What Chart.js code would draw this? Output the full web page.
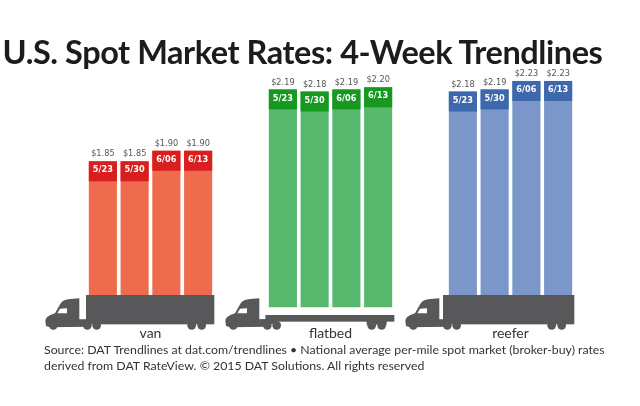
<!DOCTYPE html>
<html>
<head>
<meta charset="utf-8">
<title>U.S. Spot Market Rates</title>
<script src="https://cdn.jsdelivr.net/npm/chart.js@4"></script>
<style>
  html, body { margin: 0; padding: 0; background: #fff; }
  #page { position: relative; width: 640px; height: 406px; overflow: hidden; font-family: Lato, sans-serif; }
  h1 { position: absolute; left: 0; top: 31px; width: 605px; margin: 0; text-align: center; font: 700 32.5px/42px Lato, sans-serif; color: #1c1c1c; letter-spacing: -0.45px; white-space: nowrap; }
  canvas { position: absolute; top: 0; }
  #source { position: absolute; left: 44px; top: 342px; margin: 0; font: 400 12.3px/16px Lato, sans-serif; color: #333; white-space: nowrap; }
</style>
</head>
<body>
<div id="page">
  <canvas id="vanChart" width="180" height="345" style="left:40px"></canvas>
  <canvas id="flatbedChart" width="180" height="345" style="left:220px"></canvas>
  <canvas id="reeferChart" width="180" height="345" style="left:400px"></canvas>
  <h1>U.S. Spot Market Rates: 4-Week Trendlines</h1>
  <p id="source">Source: DAT Trendlines at dat.com/trendlines &bull; National average per-mile spot market (broker-buy) rates<br>derived from DAT RateView. &copy; 2015 DAT Solutions. All rights reserved</p>
</div>
<script>
const weeks = ["5/23", "5/30", "6/06", "6/13"];
const vanRates = [1.85, 1.85, 1.90, 1.90];
const flatbedRates = [2.19, 2.18, 2.19, 2.20];
const reeferRates = [2.18, 2.19, 2.23, 2.23];

const TRUCK_COLOR = "#58585a";

// cab and trailer, in units of 1/3 px, same shape for all three
function drawTruck(ctx, left, flat, trailerLeft) {
  ctx.save();
  ctx.translate(left, 280);
  ctx.scale(1 / 3, 1 / 3);
  ctx.translate(-45, 0);
  ctx.fillStyle = TRUCK_COLOR;

  ctx.beginPath();
  ctx.moveTo(48, 138);
  ctx.lineTo(46, 122);
  ctx.quadraticCurveTo(47, 108, 75, 100);
  ctx.lineTo(92, 70);
  ctx.quadraticCurveTo(100, 58, 120, 57);
  ctx.lineTo(148, 55);
  ctx.lineTo(148, 118);
  ctx.lineTo(175, 118);
  ctx.lineTo(175, 140);
  ctx.lineTo(60, 142);
  ctx.closePath();
  ctx.fill();

  if (flat) {
    ctx.fillRect(trailerLeft, 105, 553 - trailerLeft, 20);
    ctx.fillRect(150, 118, 50, 14);
    ctx.fillRect(470, 120, 60, 14);
  } else {
    ctx.fillRect(trailerLeft, 45, 553 - trailerLeft, 88);
  }

  [70, 172, 200, 485, 515].forEach((x) => {
    ctx.beginPath();
    ctx.arc(x, 136, 13, 0, Math.PI * 2);
    ctx.fill();
  });

  // cab window
  ctx.fillStyle = "#fff";
  ctx.beginPath();
  ctx.moveTo(82, 100);
  ctx.lineTo(90, 86);
  ctx.lineTo(111, 85);
  ctx.lineTo(111, 100);
  ctx.closePath();
  ctx.fill();
  ctx.restore();
}

// header band with the date, price above the bar, truck underneath
const barDecor = {
  id: "barDecor",
  afterDatasetsDraw(chart, args, opts) {
    const ctx = chart.ctx;
    const bars = chart.getDatasetMeta(0).data;
    const dataset = chart.data.datasets[0];
    ctx.save();
    ctx.textAlign = "center";
    ctx.textBaseline = "middle";
    bars.forEach((bar, i) => {
      const x = bar.x - bar.width / 2;
      ctx.fillStyle = opts.bandColor;
      ctx.fillRect(x, bar.y, bar.width, 20);
      ctx.fillStyle = "#fff";
      ctx.font = "700 8.2px 'DejaVu Sans', sans-serif";
      ctx.fillText(chart.data.labels[i], bar.x, bar.y + 9);
      ctx.fillStyle = "#555";
      ctx.font = "400 8.2px 'DejaVu Sans', sans-serif";
      ctx.fillText("$" + dataset.data[i].toFixed(2), bar.x, bar.y - 7);
    });
    ctx.restore();
    drawTruck(ctx, 5, opts.flat, opts.trailerLeft);
  },
};

function makeChart(id, name, rates, barColor, bandColor, flat, trailerLeft) {
  new Chart(document.getElementById(id), {
    type: "bar",
    data: {
      labels: weeks,
      datasets: [
        {
          label: name,
          data: rates,
          backgroundColor: barColor,
          barPercentage: 0.885,
          categoryPercentage: 1,
        },
      ],
    },
    options: {
      responsive: false,
      animation: false,
      devicePixelRatio: 1,
      layout: { padding: { left: 47, right: 6, top: 45, bottom: 2 } },
      scales: {
        x: {
          grid: { display: false },
          border: { display: false },
          ticks: { display: false },
          title: {
            display: true,
            text: name,
            color: "#333",
            font: { family: "Lato, sans-serif", size: 14 },
            padding: { top: 10, bottom: 1 },
          },
        },
        y: { display: false, min: 1.16, max: 2.4 },
      },
      plugins: {
        legend: { display: false },
        tooltip: { enabled: false },
        barDecor: { bandColor: bandColor, flat: flat, trailerLeft: trailerLeft },
      },
    },
    plugins: [barDecor],
  });
}

makeChart("vanChart", "van", vanRates, "#ee6c4d", "#d81e1e", false, 168);
makeChart("flatbedChart", "flatbed", flatbedRates, "#58b86e", "#17991f", true, 166);
makeChart("reeferChart", "reefer", reeferRates, "#7b97c9", "#3e68ae", false, 159);
</script>
</body>
</html>
